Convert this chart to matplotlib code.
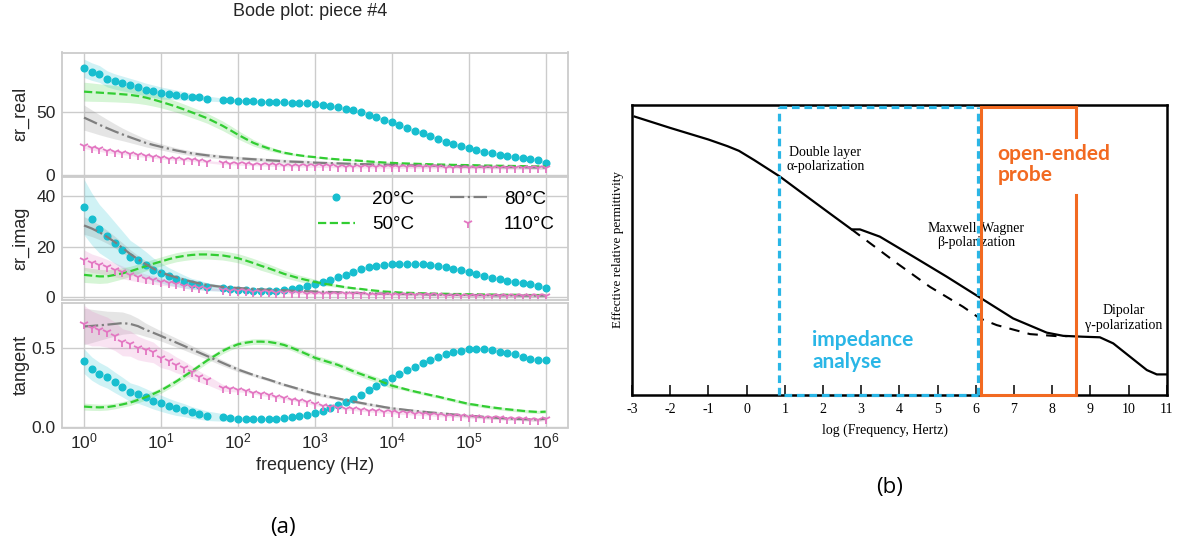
import matplotlib
matplotlib.use("Agg")
import matplotlib.pyplot as plt
import numpy as np

plt.rcParams['font.family'] = ['Liberation Sans', 'DejaVu Sans']

# ---------------- (a) Bode plot data ----------------
# sweep 1 Hz .. 1 MHz, 10 points/decade; the 50 Hz point is missing
log_f = np.round(np.arange(0, 6.01, 0.1), 1)
freq = 10 ** log_f[log_f != 1.7]

temps = ["20°C", "50°C", "80°C", "110°C"]

er_real_20 = [85.1, 82.5, 80.6, 76.7, 74.6, 73.0, 71.5, 69.9, 68.1, 66.8,
              65.4, 64.7, 63.9, 63.1, 62.3, 62.0, 61.0,
              59.9, 59.7, 59.4, 59.2, 58.9, 58.6, 58.4, 58.4, 57.9, 57.6, 57.3, 57.1,
              56.4, 56.0, 55.2, 53.9, 52.6, 51.6, 50.0, 47.9, 46.1, 44.2,
              41.9, 39.8, 37.7, 35.3, 33.2, 31.2, 28.8, 26.7, 24.6, 23.0,
              21.5, 19.9, 18.6, 17.3, 16.2, 15.2, 14.4, 13.6, 13.1, 12.0, 9.7]
er_real_50 = [66.5, 66.1, 65.7, 65.3, 64.9, 64.4, 63.9, 63.0, 61.8, 60.2,
              58.4, 56.5, 54.5, 52.3, 50.0, 47.7, 45.3,
              39.3, 35.8, 32.2, 28.9, 25.7, 23.3, 21.2, 19.4, 17.8, 16.7, 15.7, 14.9,
              14.3, 13.6, 13.0, 12.5, 12.1, 11.8, 11.3, 10.8, 10.4, 10.0,
              9.7, 9.4, 9.2, 9.0, 8.8, 8.6, 8.4, 8.3, 8.1, 8.0,
              7.9, 7.8, 7.6, 7.5, 7.4, 7.3, 7.2, 7.1, 7.0, 6.9, 6.8]
er_real_80 = [45.8, 43.0, 40.1, 37.4, 34.8, 32.4, 30.1, 27.9, 25.7, 24.0,
              22.5, 21.0, 19.6, 18.4, 17.3, 16.5, 15.7,
              14.4, 13.9, 13.4, 13.0, 12.6, 12.2, 11.8, 11.4, 11.0, 10.7, 10.5, 10.2,
              9.9, 9.7, 9.5, 9.3, 9.1, 8.9, 8.7, 8.6, 8.4, 8.3,
              8.1, 8.0, 7.8, 7.7, 7.6, 7.5, 7.4, 7.2, 7.1, 7.0,
              6.8, 6.7, 6.6, 6.5, 6.4, 6.3, 6.3, 6.2, 6.1, 6.0, 6.0]
er_real_110 = [23.0, 21.5, 20.4, 19.1, 18.3, 17.5, 16.8, 15.7, 15.2, 14.4,
               13.6, 13.1, 12.6, 12.3, 11.8, 11.3, 10.7,
               9.4, 9.2, 8.9, 8.6, 8.4, 8.2, 8.0, 7.8, 7.6, 7.5, 7.3, 7.2,
               7.1, 7.0, 6.9, 6.8, 6.7, 6.7, 6.6, 6.5, 6.5, 6.4,
               6.4, 6.3, 6.3, 6.2, 6.2, 6.1, 6.1, 6.0, 6.0, 5.9,
               5.9, 5.8, 5.8, 5.7, 5.7, 5.7, 5.6, 5.6, 5.6, 5.5, 5.5]

er_imag_20 = [35.8, 31.1, 27.2, 24.5, 21.6, 18.8, 16.0, 14.6, 13.0, 11.0,
              9.7, 8.3, 7.3, 6.2, 5.3, 4.9, 4.2,
              3.6, 3.3, 3.0, 2.8, 2.6, 2.6, 2.6, 2.6, 2.9, 3.2, 3.8, 4.5,
              5.3, 6.0, 6.9, 7.9, 9.0, 10.2, 11.1, 11.9, 12.6, 13.0,
              13.1, 13.4, 13.4, 13.4, 13.2, 13.0, 12.6, 12.1, 11.4, 10.9,
              9.9, 9.1, 8.5, 7.8, 7.2, 6.6, 6.2, 5.7, 5.3, 4.6, 3.6]
er_imag_50 = [8.9, 8.6, 8.3, 8.3, 8.9, 9.5, 10.3, 11.3, 12.3, 13.3,
              14.2, 15.1, 15.9, 16.4, 16.8, 17.0, 17.0,
              16.6, 16.1, 15.5, 14.6, 13.6, 12.5, 11.5, 10.4, 9.3, 8.4, 7.5, 6.8,
              6.1, 5.5, 5.0, 4.5, 4.0, 3.6, 3.3, 2.9, 2.6, 2.3,
              2.1, 1.9, 1.8, 1.7, 1.6, 1.5, 1.4, 1.4, 1.3, 1.3,
              1.2, 1.2, 1.1, 1.1, 1.0, 1.0, 1.0, 0.9, 0.9, 0.9, 0.9]
er_imag_80 = [28.5, 27.3, 25.8, 24.0, 21.9, 19.6, 17.2, 15.1, 13.2, 11.4,
              9.9, 8.8, 7.9, 7.0, 6.2, 5.5, 4.9,
              4.1, 3.9, 3.7, 3.5, 3.3, 3.1, 3.0, 2.9, 2.8, 2.6, 2.5, 2.4,
              2.3, 2.2, 2.1, 2.0, 1.9, 1.8, 1.7, 1.6, 1.5, 1.5,
              1.4, 1.3, 1.3, 1.2, 1.2, 1.1, 1.1, 1.0, 1.0, 1.0,
              0.9, 0.9, 0.9, 0.8, 0.8, 0.8, 0.8, 0.7, 0.7, 0.7, 0.7]
er_imag_110 = [14.8, 13.5, 12.8, 11.9, 10.9, 9.9, 8.9, 8.2, 7.4, 6.9,
               6.2, 5.7, 5.2, 4.6, 4.1, 3.7, 3.4,
               2.9, 2.6, 2.5, 2.4, 2.3, 2.1, 2.0, 1.9, 1.7, 1.7, 1.6, 1.5,
               1.5, 1.4, 1.4, 1.3, 1.3, 1.2, 1.2, 1.1, 1.1, 1.0,
               1.0, 0.9, 0.9, 0.9, 0.8, 0.8, 0.8, 0.7, 0.7, 0.7,
               0.6, 0.6, 0.6, 0.6, 0.5, 0.5, 0.5, 0.5, 0.5, 0.4, 0.4]

tan_20 = [0.415, 0.368, 0.336, 0.313, 0.281, 0.251, 0.219, 0.206, 0.187, 0.166,
          0.149, 0.132, 0.117, 0.106, 0.091, 0.081, 0.070,
          0.060, 0.055, 0.051, 0.049, 0.049, 0.049, 0.051, 0.051, 0.055, 0.060, 0.068, 0.074,
          0.087, 0.102, 0.117, 0.136, 0.160, 0.179, 0.204, 0.232, 0.260, 0.285,
          0.306, 0.332, 0.357, 0.379, 0.404, 0.421, 0.443, 0.460, 0.472, 0.481,
          0.489, 0.489, 0.489, 0.485, 0.474, 0.468, 0.457, 0.443, 0.430, 0.419, 0.421]
tan_50 = [0.128, 0.125, 0.123, 0.125, 0.132, 0.142, 0.153, 0.170, 0.187, 0.208,
          0.230, 0.258, 0.287, 0.319, 0.351, 0.385, 0.419,
          0.479, 0.502, 0.521, 0.531, 0.538, 0.538, 0.536, 0.528, 0.517, 0.499, 0.479, 0.458,
          0.436, 0.421, 0.406, 0.391, 0.371, 0.351, 0.333, 0.315, 0.298, 0.279,
          0.260, 0.248, 0.235, 0.223, 0.212, 0.201, 0.191, 0.179, 0.168, 0.156,
          0.145, 0.138, 0.130, 0.123, 0.117, 0.111, 0.106, 0.101, 0.097, 0.094, 0.096]
tan_80 = [0.634, 0.637, 0.641, 0.645, 0.650, 0.655, 0.650, 0.636, 0.613, 0.594,
          0.574, 0.553, 0.532, 0.511, 0.489, 0.468, 0.447,
          0.404, 0.383, 0.362, 0.345, 0.328, 0.313, 0.298, 0.282, 0.266, 0.252, 0.238, 0.223,
          0.209, 0.199, 0.189, 0.179, 0.169, 0.160, 0.151, 0.142, 0.134, 0.125,
          0.117, 0.112, 0.106, 0.101, 0.096, 0.091, 0.087, 0.083, 0.078, 0.074,
          0.070, 0.067, 0.063, 0.060, 0.056, 0.053, 0.051, 0.049, 0.047, 0.046, 0.053]
tan_110 = [0.647, 0.621, 0.611, 0.598, 0.572, 0.534, 0.526, 0.498, 0.483, 0.470,
           0.434, 0.417, 0.391, 0.370, 0.345, 0.317, 0.296,
           0.247, 0.238, 0.232, 0.226, 0.215, 0.206, 0.198, 0.189, 0.181, 0.172, 0.164, 0.155,
           0.142, 0.134, 0.126, 0.121, 0.115, 0.111, 0.106, 0.102, 0.098, 0.094,
           0.091, 0.087, 0.085, 0.081, 0.079, 0.077, 0.072, 0.070, 0.068, 0.066,
           0.062, 0.060, 0.057, 0.055, 0.053, 0.051, 0.049, 0.047, 0.045, 0.043, 0.047]

# standard deviations (shaded bands)
sd_real_20 = [7.3, 7.0, 6.7, 6.4, 6.1, 5.9, 5.6, 5.4, 5.2, 5.0, 4.8, 4.3, 3.8, 3.3, 2.8, 2.4, 2.0] + [1.5, 1.3, 1.2] + [1.0] * 40
sd_real_50 = [7.5, 7.3, 7.0, 6.8, 6.6, 6.4, 6.2, 5.9, 5.6, 5.2, 4.8, 4.6, 4.4, 4.3, 4.2, 4.1, 4.0] + \
             [3.8, 3.6, 3.4, 3.0, 2.6, 2.2, 1.8, 1.5, 1.2, 1.0, 0.8, 0.7] + [0.6] * 31
sd_real_80 = [10.0, 9.0, 8.0, 7.0, 6.0, 5.0, 4.3, 3.7, 3.2, 2.8, 2.5, 2.3, 2.1, 2.0, 1.9, 1.8, 1.7] + [1.6] * 12 + [1.2] * 31
sd_real_110 = [1.8, 1.6, 1.5, 1.4, 1.3, 1.2, 1.2, 1.1, 1.1] + [1.0] * 51

sd_imag_20 = [11.0, 10.3, 9.6, 8.9, 8.2, 7.4, 6.6, 5.9, 5.2, 4.6, 4.0, 3.5, 3.0, 2.6, 2.2, 1.9, 1.6] + [1.2, 1.0, 0.8] + [0.6] * 40
sd_imag_50 = [3.0, 2.9, 2.8, 2.6, 2.4, 2.2, 2.0, 1.9] + [1.8] * 15 + [1.7, 1.6, 1.5, 1.4, 1.3, 1.2, 1.1] + \
             [0.8, 0.7, 0.6, 0.5, 0.4] + [0.3] * 25
sd_imag_80 = [3.5, 3.2, 2.9, 2.6, 2.3, 2.0, 1.7, 1.5, 1.3, 1.1, 1.0] + [0.8] * 6 + [0.4] * 43
sd_imag_110 = [4.0, 3.7, 3.4, 3.1, 2.8, 2.5, 2.2, 2.0, 1.8, 1.6, 1.4, 1.2, 1.0, 0.9, 0.8, 0.7, 0.6] + [0.4] * 43

sd_tan_20 = [0.078, 0.074, 0.071, 0.068, 0.065, 0.062, 0.059, 0.057, 0.055, 0.053, 0.051, 0.048, 0.045,
             0.041, 0.037, 0.033, 0.030] + [0.024, 0.019, 0.015, 0.012] + [0.008] * 39
sd_tan_50 = [0.022, 0.021, 0.020, 0.019] + [0.018] * 36 + [0.010] * 20
sd_tan_80 = [0.115, 0.105, 0.095, 0.085, 0.078, 0.070, 0.060, 0.050, 0.042, 0.036, 0.032, 0.030, 0.028,
             0.026, 0.024, 0.022, 0.020] + [0.018, 0.016, 0.014, 0.012] + [0.010] * 39
sd_tan_110 = [0.12, 0.11, 0.10, 0.095, 0.09, 0.085, 0.08, 0.075, 0.07, 0.065, 0.06, 0.055, 0.05,
              0.045, 0.04, 0.035, 0.03] + [0.022, 0.016, 0.012] + [0.008] * 40

# ---------------- (b) schematic data ----------------
logf_solid = [-2.93, -2.0, -1.0, -0.5, -0.2, 0.2, 0.875, 1.5, 2.2, 2.75, 2.97, 3.49, 4.37, 5.24,
              6.11, 6.98, 7.86, 8.29, 8.8, 9.25, 9.60, 10.04, 10.48, 10.74, 10.98]
perm_solid = [0.960, 0.921, 0.881, 0.858, 0.842, 0.810, 0.753, 0.692, 0.624, 0.571, 0.571, 0.546, 0.477,
              0.408, 0.336, 0.264, 0.215, 0.204, 0.201, 0.199, 0.178, 0.132, 0.086, 0.071, 0.071]
logf_dash = [2.75, 3.93, 4.80, 5.67, 6.11, 6.55, 7.42, 8.12, 8.4]
perm_dash = [0.571, 0.455, 0.373, 0.304, 0.264, 0.241, 0.210, 0.203, 0.203]
impedance_range = (0.86, 6.07)
probe_range = (6.14, 8.63)
b_ticks = list(range(-3, 12))
b_ticklabels = [str(t) for t in b_ticks]

# ---------------- figure ----------------
W, H = 1178, 556
fig = plt.figure(figsize=(W / 100, H / 100), dpi=100)


def px_axes(x0, y0, x1, y1):
    return fig.add_axes([x0 / W, 1 - y1 / H, (x1 - x0) / W, (y1 - y0) / H])


grey = '#cccccc'
styles = [
    dict(color='#17becf', marker='o', ls='none', ms=4.8),
    dict(color='#32cd32', ls='--', lw=1.6),
    dict(color='#7f7f7f', ls='-.', lw=1.6),
    dict(color='#e377c2', marker='1', ls='none', ms=7, mew=1.3),
]

panels = [
    ("εr_real", [er_real_20, er_real_50, er_real_80, er_real_110],
     [sd_real_20, sd_real_50, sd_real_80, sd_real_110], (-0.6, 97.7), [0, 50], (52.5, 175.8)),
    ("εr_imag", [er_imag_20, er_imag_50, er_imag_80, er_imag_110],
     [sd_imag_20, sd_imag_50, sd_imag_80, sd_imag_110], (-1.07, 47.6), [0, 20, 40], (177.3, 300)),
    ("tangent", [tan_20, tan_50, tan_80, tan_110],
     [sd_tan_20, sd_tan_50, sd_tan_80, sd_tan_110], (-0.004, 0.785), [0.0, 0.5], (302.5, 427.5)),
]

axes = []
for label, series, sds, ylim, yticks, (ytop, ybot) in panels:
    ax = px_axes(61.7, ytop, 568, ybot)
    for vals, sd, st, name in zip(series, sds, styles, temps):
        v = np.array(vals)
        s = np.array(sd)
        ax.fill_between(freq, v - s, v + s, color=st['color'], alpha=0.2, lw=0)
        ax.plot(freq, v, label=name, **st)
    ax.set_xscale('log')
    ax.set_xlim(10 ** -0.29, 10 ** 6.29)
    ax.set_ylim(*ylim)
    ax.set_yticks(yticks)
    if label == "tangent":
        ax.set_yticklabels(["0.0", "0.5"])
    ax.set_xticks([10.0 ** k for k in range(7)])
    ax.xaxis.set_minor_locator(matplotlib.ticker.NullLocator())
    ax.grid(True, color=grey, lw=1.0)
    ax.set_axisbelow(True)
    for sp in ax.spines.values():
        sp.set_color(grey)
        sp.set_linewidth(1.3)
    ax.tick_params(length=0, labelsize=12.5, colors='#262626')
    ax.tick_params(axis='y', pad=4.5)
    ax.tick_params(axis='x', pad=3)
    ax.set_ylabel(label, fontsize=13, color='#262626')
    ax.yaxis.set_label_coords(-0.064, 0.5)
    axes.append(ax)

for ax in axes[:2]:
    ax.tick_params(axis='x', labelbottom=False)
axes[2].set_xlabel("frequency (Hz)", fontsize=13, color='#262626', labelpad=4)
axes[1].legend(ncol=2, loc='upper right', frameon=False, fontsize=13.5,
               handlelength=2.0, handletextpad=0.9, columnspacing=1.9,
               borderaxespad=0.3, labelspacing=0.45)

fig.text(310 / W, 1 - 12 / H, "Bode plot: piece #4", ha='center', va='center',
         fontsize=13, color='#262626')
fig.text(283 / W, 1 - 527 / H, "(a)", ha='center', va='center', fontsize=16,
         family=['Open Sans', 'DejaVu Sans'])
fig.text(890 / W, 1 - 487 / H, "(b)", ha='center', va='center', fontsize=16,
         family=['Open Sans', 'DejaVu Sans'])

# ---------------- (b) ----------------
cyan = '#2ab6e6'
orange = '#f26a21'
serif = ['Liberation Serif', 'DejaVu Serif']

axb = px_axes(632, 105, 1166.7, 395)
axb.set_xlim(-3, 11)
axb.set_ylim(0, 1)
for sp in axb.spines.values():
    sp.set_color('black')
    sp.set_linewidth(1.8)
axb.set_yticks([])
axb.set_xticks(b_ticks)
axb.set_xticklabels(b_ticklabels, family=serif, fontsize=10)
axb.tick_params(axis='x', direction='in', length=7, width=1.1, pad=6)
axb.set_ylabel("Effective relative permittivity", family=serif, fontsize=9.5, labelpad=6)
axb.text(0.473, -0.123, "log (Frequency, Hertz)", transform=axb.transAxes,
         ha='center', va='center', family=serif, fontsize=10)

axb.plot(logf_solid, perm_solid, color='black', lw=1.6, zorder=4)
axb.plot(logf_dash, perm_dash, color='black', lw=1.5, ls=(0, (5, 4)), zorder=4)

# impedance analyser range (dashed cyan box)
c0, c1 = impedance_range
top = 0.993
dash = dict(color=cyan, lw=2.3, ls=(0, (2.4, 1.5)), clip_on=False, zorder=5)
axb.plot([c0, c0], [0, top], **dash)
axb.plot([c1, c1], [0, top], **dash)
axb.plot([c0, c1], [top, top], **dash)
axb.plot([c0 + 0.12, c1], [0, 0], **dash)

# open-ended probe range (orange box)
o0, o1 = probe_range
solid = dict(color=orange, lw=2.2, clip_on=False, zorder=6)
axb.plot([o0, o0], [0, top], **solid)
axb.plot([o0, o1], [top, top], **solid)
axb.plot([o0, o1], [0, 0], **solid)
axb.plot([o1, o1], [0.891, top], **solid)
axb.plot([o1, o1], [0, 0.690], **solid)

bold = ['Lato', 'DejaVu Sans']
axb.text(6.57, 0.795, "open-ended\nprobe", color=orange, fontsize=15, fontweight='bold',
         family=bold, ha='left', va='center', linespacing=1.1)
axb.text(1.72, 0.151, "impedance\nanalyse", color=cyan, fontsize=15, fontweight='bold',
         family=bold, ha='left', va='center', linespacing=1.1)

axb.text(2.06, 0.812, "Double layer\nα-polarization", family=serif, fontsize=10,
         ha='center', va='center', linespacing=1.15)
axb.text(6.0, 0.55, "Maxwell-Wagner\nβ-polarization", family=serif, fontsize=10,
         ha='center', va='center', linespacing=1.15)
axb.text(9.88, 0.265, "Dipolar\nγ-polarization", family=serif, fontsize=10,
         ha='center', va='center', linespacing=1.15)

fig.savefig("out.png", dpi=100)
